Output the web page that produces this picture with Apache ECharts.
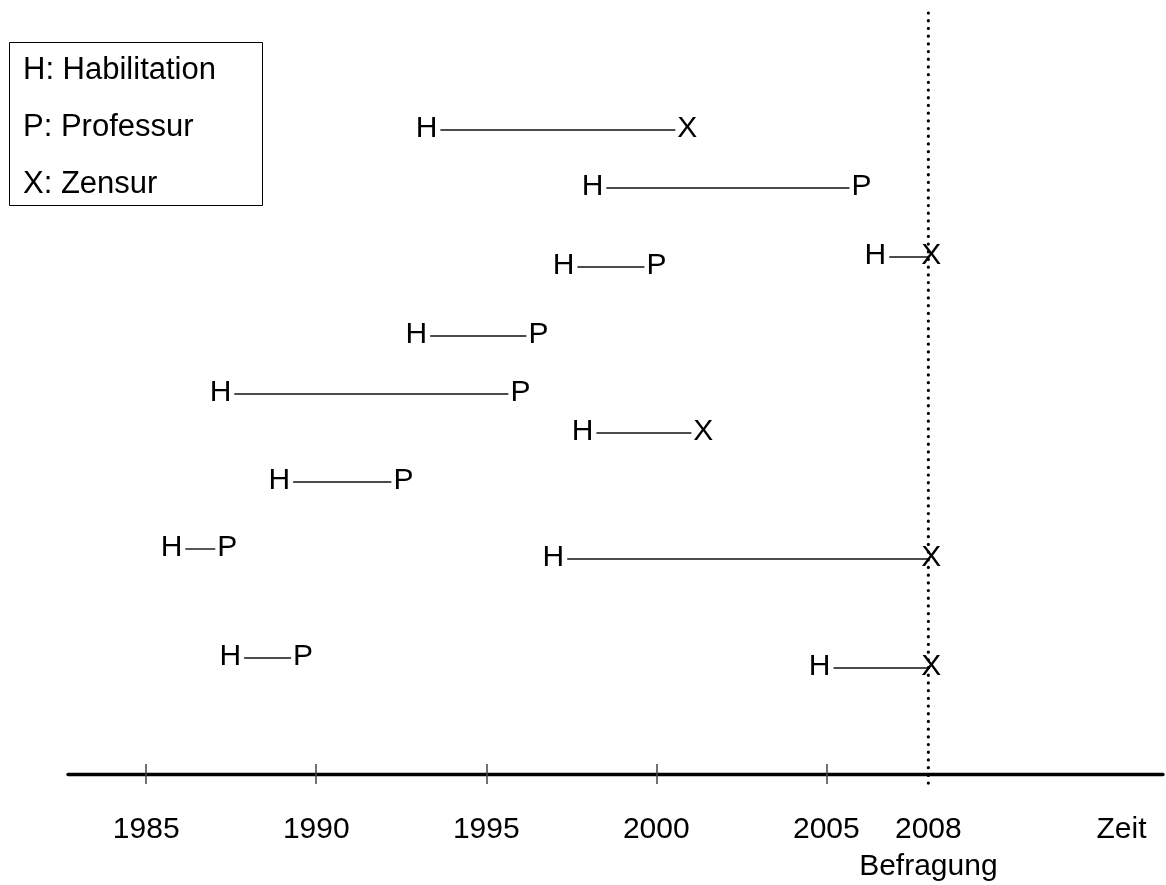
<!DOCTYPE html>
<html>
<head>
<meta charset="utf-8">
<script src="https://cdn.jsdelivr.net/npm/echarts@6/dist/echarts.min.js"></script>
<style>
  html, body { margin: 0; padding: 0; background: #fff; }
  #chart { width: 1166px; height: 885px; }
</style>
</head>
<body>
<div id="chart"></div>
<script>
// ---- data ----
const lanes      = [64.4, 58.6, 50.7, 51.7, 43.8, 38.0, 34.1, 29.2, 22.5, 21.5, 11.6, 10.6];
const startYears = [1993.65, 1998.53, 1997.68, 2006.85, 1993.35, 1987.59, 1998.24, 1989.32, 1986.15, 1997.38, 1987.88, 2005.21];
const endYears   = [2000.56, 2005.68, 1999.65, 2008, 1996.18, 1995.65, 2001.03, 1992.21, 1987.03, 2008, 1989.26, 2008];
const endEvents  = ['X', 'P', 'P', 'X', 'P', 'P', 'X', 'P', 'P', 'X', 'P', 'X'];
const startEvent = 'H';
const tickYears  = [1985, 1990, 1995, 2000, 2005];
const labelYears = [1985, 1990, 1995, 2000, 2005];
const surveyYear = 2008;
const surveyLabel = 'Befragung';
const axisName = 'Zeit';
const legendLines = ['H: Habilitation', 'P: Professur', 'X: Zensur'];

// ---- style ----
const FAMILY = '"Liberation Sans", Arial, sans-serif';
const FONT = '30px ' + FAMILY;
const xMin = 1982.7, xMax = 2014.9, yMax = 76.1;

const intervalData = lanes.map((l, i) => [startYears[i], endYears[i], l, i]);

const labelBase = {
  margin: 37, color: '#000', hideOverlap: false,
  fontSize: 30, fontFamily: FAMILY, lineHeight: 37
};

const chart = echarts.init(document.getElementById('chart'));
chart.setOption({
  animation: false,
  backgroundColor: '#fff',
  grid: { left: 68, right: 3, top: 13, bottom: 111 },
  xAxis: [
    {
      type: 'value', min: xMin, max: xMax,
      axisLine: { lineStyle: { color: '#000', width: 3.3 } },
      axisTick: { customValues: tickYears, length: 10, lineStyle: { color: '#444', width: 1.5 } },
      axisLabel: Object.assign({}, labelBase, {
        customValues: labelYears,
        formatter: v => String(Math.round(v))
      }),
      splitLine: { show: false }
    },
    {
      type: 'value', min: xMin, max: xMax, position: 'bottom',
      axisLine: { show: false },
      axisTick: { inside: true, customValues: tickYears, length: 10, lineStyle: { color: '#444', width: 1.5 } },
      axisLabel: Object.assign({}, labelBase, {
        customValues: [surveyYear],
        formatter: v => String(Math.round(v)) + '\n' + surveyLabel
      }),
      splitLine: { show: false }
    }
  ],
  yAxis: { type: 'value', min: 0, max: yMax, show: false },
  graphic: [
    { type: 'rect', shape: { x: 9.5, y: 42.5, width: 253, height: 163 },
      style: { fill: '#fff', stroke: '#000', lineWidth: 1 }, z: 10 },
    ...legendLines.map((t, i) => ({
      type: 'text', x: 23, y: 70.5 + i * 57, z: 11,
      style: { text: t, font: '31px ' + FAMILY, fill: '#000', textAlign: 'left', textVerticalAlign: 'middle' }
    })),
    { type: 'text', x: 1121.5, y: 829.5, z: 11,
      style: { text: axisName, font: FONT, fill: '#000', textAlign: 'center', textVerticalAlign: 'middle' } }
  ],
  series: [
    {
      type: 'custom', xAxisIndex: 0, z: 1,
      data: [[surveyYear]],
      renderItem: (params, api) => {
        const top = api.coord([api.value(0), yMax]);
        const bot = api.coord([api.value(0), 0]);
        return {
          type: 'line',
          shape: { x1: top[0], y1: top[1], x2: bot[0], y2: bot[1] + 10 },
          style: { stroke: '#000', lineWidth: 3.2, lineDash: [0.1, 7.6], lineCap: 'round' }
        };
      }
    },
    {
      type: 'custom', xAxisIndex: 0, z: 3,
      data: intervalData,
      renderItem: (params, api) => {
        const idx = api.value(3);
        const s = api.coord([api.value(0), api.value(2)]);
        const e = api.coord([api.value(1), api.value(2)]);
        const ev = endEvents[idx];
        const centered = api.value(1) === surveyYear;
        return {
          type: 'group',
          children: [
            { type: 'line', shape: { x1: s[0], y1: s[1], x2: e[0], y2: e[1] },
              style: { stroke: '#111', lineWidth: 1.4 } },
            { type: 'text', x: s[0] - 3, y: s[1] - 1,
              style: { text: startEvent, font: FONT, fill: '#000', textAlign: 'right', textVerticalAlign: 'middle' } },
            { type: 'text', x: centered ? e[0] + 3 : e[0] + 2, y: e[1] - 1,
              style: { text: ev, font: FONT, fill: '#000', textAlign: centered ? 'center' : 'left', textVerticalAlign: 'middle' } }
          ]
        };
      }
    }
  ]
});
</script>
</body>
</html>
